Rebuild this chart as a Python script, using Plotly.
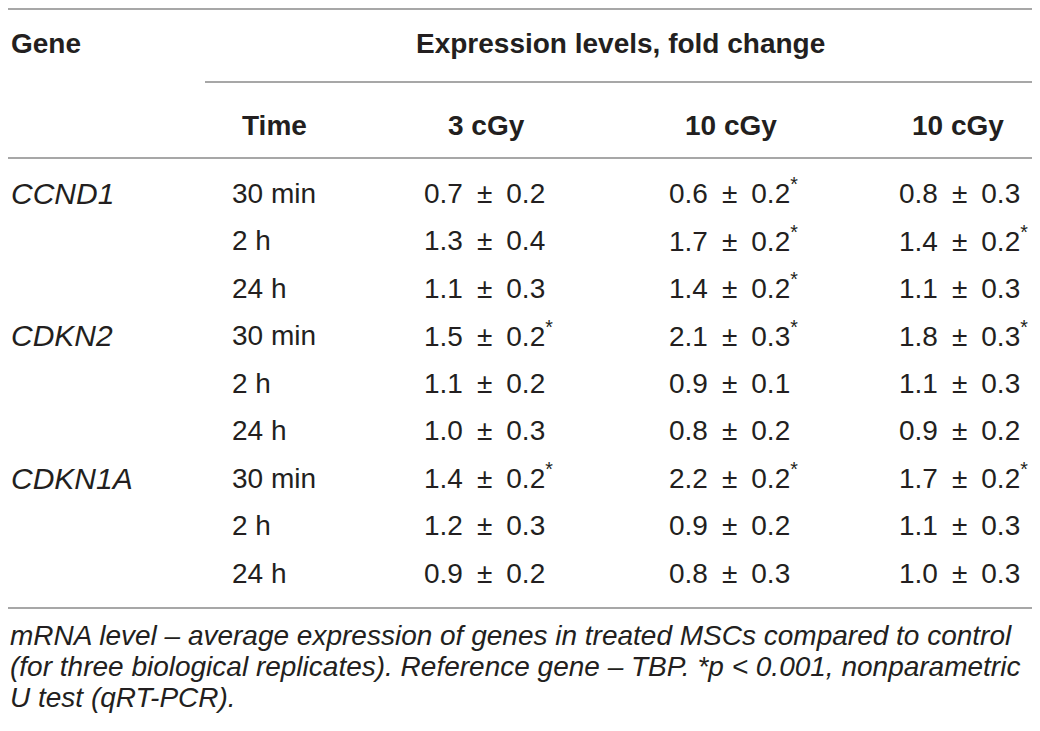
import plotly.graph_objects as go

# Table data
genes = ["CCND1", "CDKN2", "CDKN1A"]
times = ["30 min", "2 h", "24 h"]
dose_labels = ["3 cGy", "10 cGy", "10 cGy"]

# mean, sd and significance (*) for each dose column, rows = gene x time
mean_3 = [0.7, 1.3, 1.1, 1.5, 1.1, 1.0, 1.4, 1.2, 0.9]
sd_3 = [0.2, 0.4, 0.3, 0.2, 0.2, 0.3, 0.2, 0.3, 0.2]
sig_3 = [0, 0, 0, 1, 0, 0, 1, 0, 0]

mean_10a = [0.6, 1.7, 1.4, 2.1, 0.9, 0.8, 2.2, 0.9, 0.8]
sd_10a = [0.2, 0.2, 0.2, 0.3, 0.1, 0.2, 0.2, 0.2, 0.3]
sig_10a = [1, 1, 1, 1, 0, 0, 1, 0, 0]

mean_10b = [0.8, 1.4, 1.1, 1.8, 1.1, 0.9, 1.7, 1.1, 1.0]
sd_10b = [0.3, 0.2, 0.3, 0.3, 0.3, 0.2, 0.2, 0.3, 0.3]
sig_10b = [0, 1, 0, 1, 0, 0, 1, 0, 0]

footnote = ["mRNA level – average expression of genes in treated MSCs compared to control",
            "(for three biological replicates). Reference gene – TBP. *p < 0.001, nonparametric",
            "U test (qRT-PCR)."]

# the page body adds an 8px offset, so the axes are shifted to keep page pixels = data units
OFF = 8
W, H = 1040 - OFF, 731 - OFF
FONT = "Liberation Sans, Arial, Helvetica, sans-serif"
TXT = "#231f20"
LINE = "#8a8a8a"
SP = "\u2002"

# layout helpers
gene_x = OFF + 1
time_x = 230
val_x = [422, 667, 897]
head_x = [486, 731, 958]
row0, row_h = 193, 47.5

fig = go.Figure()
ann = []

def text(x, y, s, anchor="left", bold=False, italic=False, size=28, family=FONT):
    if bold:
        s = "<b>" + s + "</b>"
    if italic:
        s = "<i>" + s + "</i>"
    ann.append(dict(x=x, y=y, xref="x", yref="y", text=s, showarrow=False,
                    xanchor=anchor, yanchor="middle",
                    font=dict(family=family, size=size, color=TXT)))

def hline(x0, x1, y):
    fig.add_shape(type="line", x0=x0, x1=x1, y0=y, y1=y, xref="x", yref="y",
                  line=dict(color=LINE, width=1.5))

# rules
hline(OFF, 1034, OFF + 1)
hline(205, 1034, 82)
hline(OFF, 1034, 158)
hline(OFF, 1034, 608)

# header
text(gene_x, 43, "Gene", bold=True)
text(620, 43, "Expression levels, fold change", anchor="center", bold=True)
text(274, 125, "Time", anchor="center", bold=True)
for hx, lab in zip(head_x, dose_labels):
    text(hx, 125, lab, anchor="center", bold=True)

# body
cols = [(mean_3, sd_3, sig_3), (mean_10a, sd_10a, sig_10a), (mean_10b, sd_10b, sig_10b)]
for i in range(len(genes) * len(times)):
    y = row0 + i * row_h
    if i % len(times) == 0:
        text(gene_x, y, genes[i // len(times)], italic=True, size=30)
    text(time_x, y, times[i % len(times)])
    for vx, (m, s, sg) in zip(val_x, cols):
        label = f"{m[i]:.1f}{SP}±{SP}{s[i]:.1f}"
        if sg[i]:
            # the superscript makes the box taller, nudge it back onto the row baseline
            text(vx, y - 2, label + "<sup>*</sup>")
        else:
            text(vx, y, label)

# footnote
for k, line in enumerate(footnote):
    text(OFF, 635 + k * 31, line, italic=True, size=28)

fig.update_layout(
    width=W, height=H,
    margin=dict(l=0, r=0, t=0, b=0),
    paper_bgcolor="white", plot_bgcolor="white",
    xaxis=dict(range=[OFF, OFF + W], visible=False, fixedrange=True),
    yaxis=dict(range=[OFF + H, OFF], visible=False, fixedrange=True),
    annotations=ann,
    showlegend=False,
)

fig.write_html("out.html")
